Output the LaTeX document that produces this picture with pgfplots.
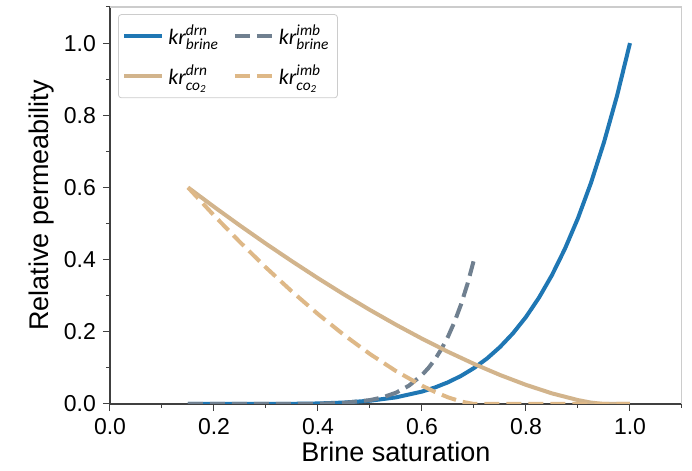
\documentclass[border=0pt]{standalone}
\usepackage{amsmath}
\usepackage{fontspec}
\setmainfont{Liberation Sans}
\newfontfamily\legfont{Carlito}
\usepackage{pgfplots}
\pgfplotsset{compat=1.18}
\usetikzlibrary{calc}
\definecolor{brinedrn}{HTML}{1F77B4}
\definecolor{brineimb}{HTML}{708090}
\definecolor{codrn}{HTML}{D2B48C}
\definecolor{coimb}{HTML}{DEB887}
\newcommand{\lgt}[1]{\text{\legfont\itshape #1}}

\begin{document}
\begin{tikzpicture}
\begin{axis}[
  scale only axis, width=286pt, height=198.5pt,
  xmin=0, xmax=1.1, ymin=0, ymax=1.1,
  axis lines*=left,
  axis line style={black!75, line width=0.6pt},
  xtick={0,0.2,...,1.0}, ytick={0,0.2,...,1.0},
  minor xtick={0.1,0.3,...,1.1}, minor ytick={0.1,0.3,...,1.1},
  tick align=outside,
  major tick length=3.5pt, minor tick length=2pt,
  every tick/.style={black!75, line width=0.5pt},
  /pgf/number format/fixed,
  /pgf/number format/fixed zerofill,
  /pgf/number format/precision=1,
  /pgf/number format/assume math mode=true,
  tick label style={font=\fontsize{11.5}{13}\selectfont},
  label style={font=\fontsize{13.5}{15}\selectfont},
  xlabel={Brine saturation},
  ylabel={Relative permeability},
  xlabel style={yshift=3pt},
  ylabel style={yshift=-2pt},
  legend columns=2,
  legend cell align=left,
  legend style={at={(0.014,0.982)}, anchor=north west, draw=black!20,
    rounded corners=1.5pt, inner xsep=2pt, inner ysep=3pt, row sep=5pt,
    font=\legfont\fontsize{11}{12}\selectfont,
    /tikz/every even column/.append style={column sep=5pt}},
  legend image code/.code={\draw[#1] (0pt,0pt) -- (19pt,0pt);},
]
\coordinate (sw) at (rel axis cs:0,0);
\coordinate (ne) at (rel axis cs:1,1);
\draw[black!20, line width=0.6pt] (rel axis cs:0,1) -- (rel axis cs:1,1) -- (rel axis cs:1,0);

% brine, drainage
\addplot[brinedrn, line width=2pt] coordinates {
  (0.15,0) (0.2,0) (0.25,0.00001) (0.3,0.0001) (0.35,0.0005) (0.4,0.0015)
  (0.45,0.0040) (0.5,0.0091) (0.55,0.0184) (0.6,0.0344) (0.625,0.0458)
  (0.65,0.0601) (0.675,0.0778) (0.7,0.0996) (0.725,0.1260) (0.75,0.1579)
  (0.775,0.1960) (0.8,0.2412) (0.825,0.2947) (0.85,0.3573) (0.875,0.4304)
  (0.9,0.5151) (0.925,0.6129) (0.95,0.7253) (0.975,0.8537) (1.0,1.0)};
\addlegendentry{$\lgt{kr}^{\lgt{drn}}_{\lgt{brine}}$}

% brine, imbibition
\addplot[brineimb, line width=2pt, dash pattern=on 7.5pt off 3.5pt] coordinates {
  (0.15,0) (0.2,0) (0.25,0) (0.3,0.00001) (0.35,0.0001) (0.4,0.0007)
  (0.45,0.0031) (0.5,0.0108) (0.525,0.0187) (0.55,0.0313) (0.575,0.0509)
  (0.6,0.0803) (0.6125,0.1000) (0.625,0.1238) (0.6375,0.1524) (0.65,0.1866)
  (0.6625,0.2274) (0.675,0.2757) (0.6875,0.3328) (0.7,0.4)};
\addlegendentry{$\lgt{kr}^{\lgt{imb}}_{\lgt{brine}}$}

% co2, drainage
\addplot[codrn, line width=2pt] coordinates {
  (0.15,0.6) (0.2,0.5464) (0.25,0.4944) (0.3,0.4440) (0.35,0.3955)
  (0.4,0.3485) (0.45,0.3035) (0.5,0.2605) (0.55,0.2196) (0.6,0.1810)
  (0.65,0.1447) (0.7,0.1111) (0.75,0.0804) (0.8,0.0530) (0.85,0.0294)
  (0.9,0.0108) (0.925,0.0039) (0.95,0) (1.0,0)};
\addlegendentry{$\lgt{kr}^{\lgt{drn}}_{\lgt{co\textsubscript{2}}}$}

% co2, imbibition
\addplot[coimb, line width=2pt, dash pattern=on 7.5pt off 3.5pt] coordinates {
  (0.15,0.6) (0.2,0.5225) (0.25,0.4485) (0.3,0.3780) (0.35,0.3115)
  (0.4,0.2491) (0.45,0.1913) (0.5,0.1384) (0.55,0.0912) (0.6,0.0507)
  (0.625,0.0334) (0.65,0.0185) (0.675,0.0068) (0.7,0) (0.8,0) (0.9,0) (1.0,0)};
\addlegendentry{$\lgt{kr}^{\lgt{imb}}_{\lgt{co\textsubscript{2}}}$}
\end{axis}
\path ($(sw)+(-55pt,-33.5pt)$) rectangle ($(ne)+(5pt,3.5pt)$);
\end{tikzpicture}
\end{document}
